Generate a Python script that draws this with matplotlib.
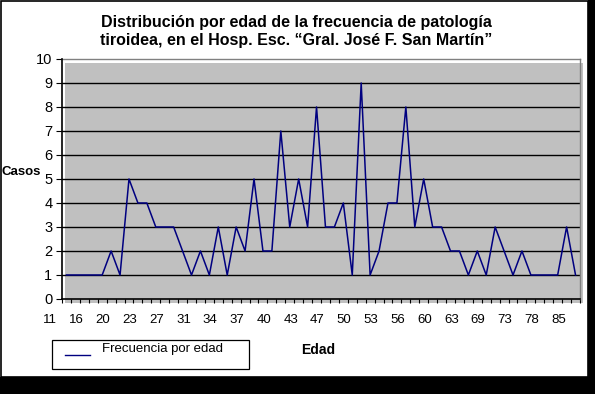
import matplotlib.pyplot as plt
import matplotlib.transforms as mtransforms
from matplotlib.patches import Rectangle
from matplotlib.lines import Line2D

plt.rcParams["font.family"] = ["Liberation Sans", "DejaVu Sans"]

# cases per age category (58 categories)
casos = [1, 1, 1, 1, 1, 2, 1, 5, 4, 4,
         3, 3, 3, 2, 1, 2, 1, 3, 1, 3,
         2, 5, 2, 2, 7, 3, 5, 3, 8, 3,
         3, 4, 1, 9, 1, 2, 4, 4, 8, 3,
         5, 3, 3, 2, 2, 1, 2, 1, 3, 2,
         1, 2, 1, 1, 1, 1, 3, 1]
edad_labels = ["11", "16", "20", "23", "27", "31", "34", "37", "40", "43",
               "47", "50", "53", "56", "60", "63", "69", "73", "78", "85"]
y_ticks = list(range(0, 11))

W, H = 595, 394
fig = plt.figure(figsize=(W / 100, H / 100), dpi=100)
fig.patch.set_facecolor("white")

# outer frame and shadow
fig.patches.append(Rectangle((0, 0), 1, 17 / H, transform=fig.transFigure,
                             facecolor="black", edgecolor="none", zorder=-10))
fig.patches.append(Rectangle((588 / W, 0), 7 / W, 1, transform=fig.transFigure,
                             facecolor="black", edgecolor="none", zorder=-10))
fig.patches.append(Rectangle((1 / W, 17 / H), 587 / W, (H - 18) / H,
                             transform=fig.transFigure, facecolor="white",
                             edgecolor="black", lw=1.2, zorder=-9))

ax = fig.add_axes([62 / W, (H - 299) / H, (580 - 62) / W, (299 - 59) / H])
ax.set_facecolor("none")

# gray plot area fill, slightly shifted like the original
shift = mtransforms.ScaledTranslation(3 / 100, -4 / 100, fig.dpi_scale_trans)
ax.add_patch(Rectangle((0, 0), 1, 1, transform=ax.transAxes + shift,
                       facecolor="#c0c0c0", edgecolor="none", zorder=0,
                       clip_on=False))

x = list(range(len(casos)))
ax.plot(x, casos, color="#000080", lw=1.1, zorder=3, label="Frecuencia por edad")

ax.set_xlim(-0.5, len(casos) - 0.5)
ax.set_ylim(0, 10)

ax.set_yticks(y_ticks)
ax.set_yticklabels([str(v) for v in y_ticks], fontsize=10.5)
for v in y_ticks[1:10]:
    ax.axhline(v, color="black", lw=1.0, zorder=2)

ax.set_xticks(list(range(0, len(casos), 3)))
ax.set_xticklabels(edad_labels, fontsize=9.5)
ax.set_xticks([i - 0.5 for i in range(len(casos) + 1)], minor=True)
ax.tick_params(axis="x", which="major", length=0, pad=11)
ax.tick_params(axis="x", which="minor", length=3, width=0.8, color="black")
ax.tick_params(axis="y", length=4, width=0.8, color="black", pad=3)
offset = mtransforms.ScaledTranslation(-17 / 100, 0, fig.dpi_scale_trans)
for lab in ax.get_xticklabels():
    lab.set_transform(lab.get_transform() + offset)

for side in ["left", "bottom"]:
    ax.spines[side].set_color("black")
    ax.spines[side].set_linewidth(1.2)
    ax.spines[side].set_zorder(4)
for side in ["top", "right"]:
    ax.spines[side].set_color("#808080")
    ax.spines[side].set_linewidth(1.0)

fig.text(296 / W, 1 - 22 / H, "Distribución por edad de la frecuencia de patología",
         ha="center", va="center", fontsize=11.5, fontweight="bold")
fig.text(296 / W, 1 - 41 / H, "tiroidea, en el Hosp. Esc. “Gral. José F. San Martín”",
         ha="center", va="center", fontsize=11.5, fontweight="bold")
fig.text(2 / W, 1 - 172 / H, "Casos", ha="left", va="center",
         fontsize=9.5, fontweight="bold")
fig.text(318 / W, 1 - 350 / H, "Edad", ha="center", va="center",
         fontsize=10, fontweight="bold")

# legend box
fig.patches.append(Rectangle((52 / W, 1 - 369 / H), 197 / W, 29 / H,
                             transform=fig.transFigure, facecolor="white",
                             edgecolor="black", lw=0.9))
fig.lines.append(Line2D([65 / W, 90 / W], [1 - 355 / H, 1 - 355 / H],
                        transform=fig.transFigure, color="#000080", lw=1.0))
fig.text(102 / W, 1 - 349 / H, "Frecuencia por edad", ha="left", va="center",
         fontsize=9.5)

fig.savefig("out.png", dpi=100)
